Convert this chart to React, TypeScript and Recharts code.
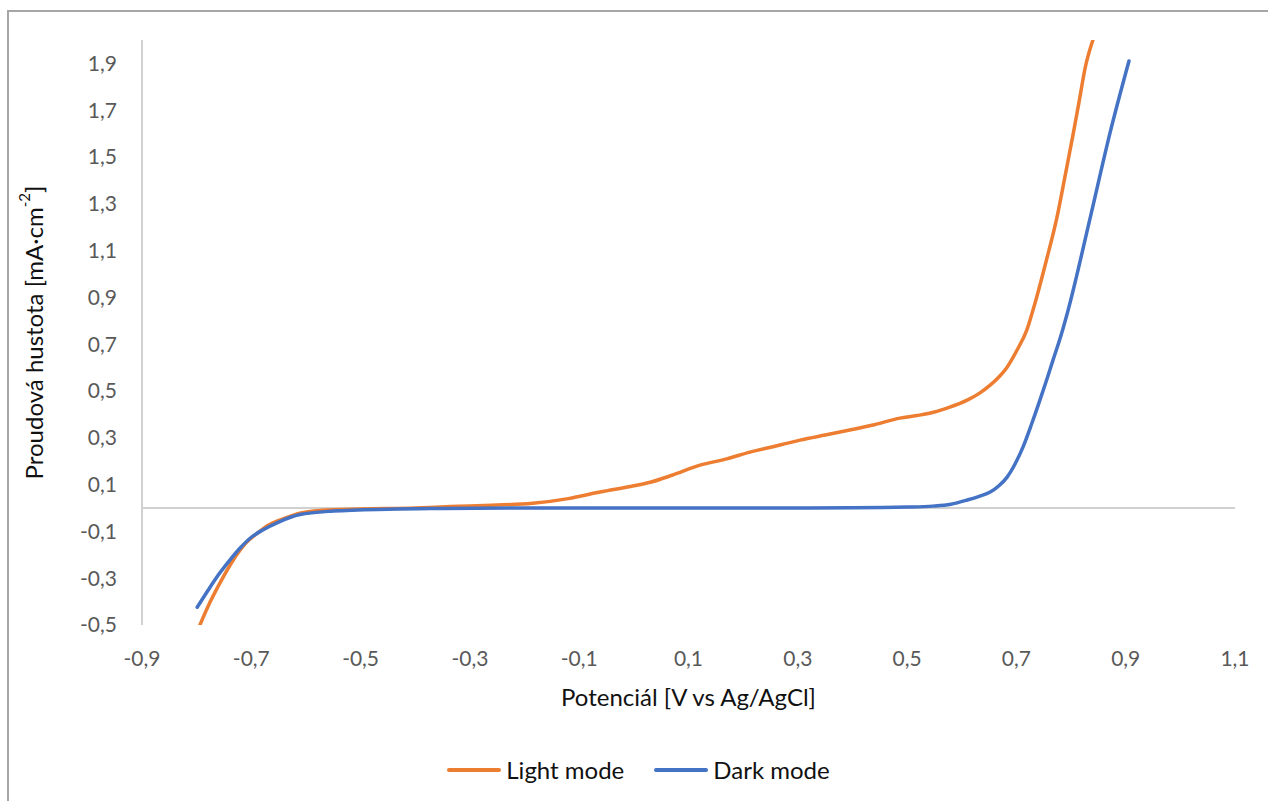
import { LineChart, Line, XAxis, YAxis, ReferenceLine, Label } from 'recharts'

// Light mode (orange) – potential [V] vs current density [mA/cm2]
const lightX = [
  -0.794, -0.775, -0.755, -0.733, -0.71, -0.69, -0.67, -0.64, -0.611, -0.57, -0.5, -0.4, -0.336, -0.26,
  -0.185, -0.12, -0.062, 0.0, 0.03, 0.07, 0.121, 0.17, 0.2125, 0.26, 0.304, 0.35, 0.395, 0.44, 0.487,
  0.518, 0.55, 0.573, 0.61, 0.632, 0.652, 0.668, 0.683, 0.701, 0.719, 0.734, 0.755, 0.774, 0.79, 0.804,
  0.815, 0.826, 0.84,
]
const lightY = [
  -0.5, -0.4, -0.31, -0.222, -0.15, -0.11, -0.075, -0.045, -0.022, -0.01, -0.004, 0.0, 0.006, 0.012,
  0.02, 0.04, 0.068, 0.095, 0.11, 0.14, 0.183, 0.21, 0.239, 0.265, 0.29, 0.312, 0.333, 0.356, 0.384,
  0.395, 0.41, 0.427, 0.461, 0.49, 0.525, 0.56, 0.602, 0.674, 0.76, 0.875, 1.06, 1.24, 1.43, 1.6,
  1.74, 1.883, 2.0,
]

// Dark mode (blue)
const darkX = [
  -0.799, -0.78, -0.763, -0.74, -0.72, -0.7, -0.679, -0.65, -0.611, -0.55, -0.45, -0.35, -0.2, 0.0, 0.2,
  0.4, 0.5, 0.547, 0.58, 0.61, 0.632, 0.652, 0.668, 0.683, 0.698, 0.712, 0.728, 0.743, 0.755, 0.767,
  0.78, 0.794, 0.835, 0.871, 0.906,
]
const darkY = [
  -0.424, -0.355, -0.295, -0.225, -0.17, -0.125, -0.094, -0.06, -0.028, -0.013, -0.005, -0.002, 0.0, 0.0,
  0.0, 0.001, 0.004, 0.008, 0.016, 0.034, 0.05, 0.068, 0.095, 0.132, 0.19, 0.26, 0.36, 0.461, 0.545,
  0.632, 0.725, 0.84, 1.24, 1.6, 1.91,
]

const xTicks = [-0.9, -0.7, -0.5, -0.3, -0.1, 0.1, 0.3, 0.5, 0.7, 0.9, 1.1]
const yTicks = [-0.5, -0.3, -0.1, 0.1, 0.3, 0.5, 0.7, 0.9, 1.1, 1.3, 1.5, 1.7, 1.9]

const seriesNames = ['Light mode', 'Dark mode']

const lightData = lightX.map((x, i) => ({ x, y: lightY[i] }))
const darkData = darkX.map((x, i) => ({ x, y: darkY[i] }))

const FONT = 'Lato, "Open Sans", sans-serif'
const ORANGE = '#ED7D31'
const BLUE = '#4472C4'
const AXIS = '#d0d0d0'

const fmt = (v: number) => v.toFixed(1).replace('.', ',')

function XTitle({ viewBox }: any) {
  const { x, y, width } = viewBox
  return (
    <text x={x + width / 2} y={y + 81} textAnchor="middle" fontSize={24} fontFamily={FONT} fill="#111">
      Potenciál [V vs Ag/AgCl]
    </text>
  )
}

function YTitle({ viewBox }: any) {
  const { y, height } = viewBox
  const cx = 24
  const cy = y + height / 2
  return (
    <text
      x={cx}
      y={cy}
      transform={`rotate(-90, ${cx}, ${cy})`}
      textAnchor="middle"
      dominantBaseline="central"
      fontSize={24}
      fontFamily={FONT}
      fill="#111"
    >
      Proudová hustota [mA·cm
      <tspan fontSize={15} dy={-9}>-2</tspan>
      <tspan dy={9}>]</tspan>
    </text>
  )
}

function LegendBox() {
  const colors = [ORANGE, BLUE]
  return (
    <div
      style={{
        position: 'absolute',
        top: 743,
        left: 0,
        width: 1259,
        display: 'flex',
        justifyContent: 'center',
        gap: 30,
        fontFamily: FONT,
        fontSize: 24,
        color: '#111',
      }}
    >
      {seriesNames.map((name, i) => (
        <div key={name} style={{ display: 'flex', alignItems: 'center' }}>
          <span style={{ display: 'inline-block', width: 54, height: 4, borderRadius: 2, background: colors[i], marginRight: 5 }} />
          <span>{name}</span>
        </div>
      ))}
    </div>
  )
}

export default function App() {
  return (
    <div
      style={{
        position: 'absolute',
        left: 7,
        top: 10,
        width: 1270,
        height: 800,
        borderLeft: '2px solid #a6a6a6',
        borderTop: '2px solid #a6a6a6',
        background: '#fff',
        overflow: 'hidden',
      }}
    >
      <LineChart width={1259} height={789} margin={{ top: 28, right: 33, bottom: 116, left: 0 }}>
        <XAxis
          type="number"
          dataKey="x"
          domain={[-0.9, 1.1]}
          ticks={xTicks}
          tickFormatter={fmt}
          axisLine={false}
          tickLine={false}
          tickSize={0}
          tickMargin={26}
          height={60}
          tick={{ fill: '#595959', fontSize: 21, fontFamily: FONT }}
          allowDataOverflow
        >
          <Label content={<XTitle />} />
        </XAxis>
        <YAxis
          type="number"
          dataKey="y"
          domain={[-0.5, 2.0]}
          ticks={yTicks}
          tickFormatter={fmt}
          width={133}
          axisLine={{ stroke: AXIS, strokeWidth: 2 }}
          tickLine={false}
          tickSize={0}
          tickMargin={25}
          tick={{ fill: '#595959', fontSize: 21, fontFamily: FONT }}
          allowDataOverflow
        >
          <Label content={<YTitle />} />
        </YAxis>
        <ReferenceLine y={0} stroke={AXIS} strokeWidth={2} />
        <Line
          data={lightData}
          dataKey="y"
          name={seriesNames[0]}
          type="monotone"
          stroke={ORANGE}
          strokeWidth={3.5}
          strokeLinecap="round"
          dot={false}
          isAnimationActive={false}
        />
        <Line
          data={darkData}
          dataKey="y"
          name={seriesNames[1]}
          type="monotone"
          stroke={BLUE}
          strokeWidth={3.5}
          strokeLinecap="round"
          dot={false}
          isAnimationActive={false}
        />
      </LineChart>
      <LegendBox />
    </div>
  )
}
